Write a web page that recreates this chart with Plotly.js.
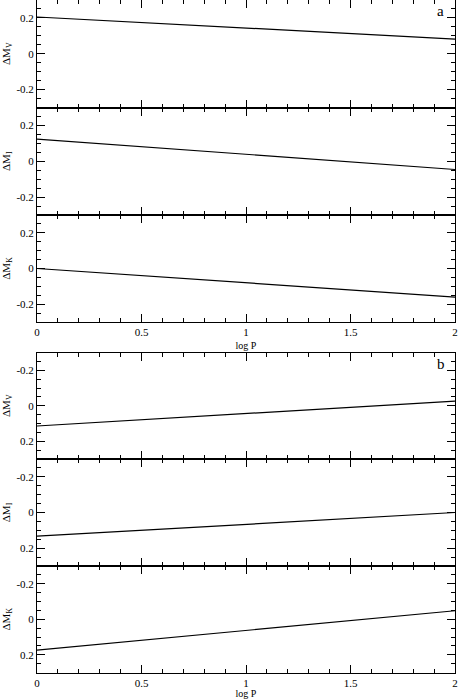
<!DOCTYPE html>
<html>
<head>
<meta charset="utf-8">
<script src="https://cdn.plot.ly/plotly-3.0.1.min.js"></script>
<style>html,body{margin:0;padding:0;background:#fff;}#chart{width:458px;height:699px;}</style>
</head>
<body>
<div id="chart"></div>
<script>
// Data: endpoints of each fitted relation
const logP = [0, 2];
const aV = [0.205, 0.082];
const aI = [0.124, -0.046];
const aK = [0.0, -0.160];
const bV = [0.114, -0.026];
const bI = [0.133, 0.000];
const bK = [0.174, -0.048];

const yTitles = ['ΔM<sub>V</sub>', 'ΔM<sub>I</sub>', 'ΔM<sub>K</sub>', 'ΔM<sub>V</sub>', 'ΔM<sub>I</sub>', 'ΔM<sub>K</sub>'];
const yTickVals = [-0.2, 0, 0.2];
const yTickText = ['-0.2', '0', '0.2'];
const xTickVals = [0, 0.5, 1, 1.5, 2];
const xTickText = ['0', '0.5', '1', '1.5', '2'];
const panelLabels = ['a', 'b'];

const series = [aV, aI, aK, bV, bI, bK];
const H = 699;
// pixel extents (top, bottom) for each panel
const pix = [[0, 107.5], [107.5, 215], [215, 322], [352.5, 459], [459, 566], [566, 672.5]];

const font = {family: "'Liberation Serif', 'Times New Roman', Times, serif", size: 11, color: '#000'};
const traces = [];
const layout = {
  width: 458, height: 699,
  margin: {l: 37, r: 3, t: 0, b: 0},
  paper_bgcolor: '#fff', plot_bgcolor: '#fff',
  showlegend: false,
  font: font,
  annotations: []
};

series.forEach((ys, i) => {
  const n = i + 1;
  const xa = 'x' + (n === 1 ? '' : n);
  const ya = 'y' + (n === 1 ? '' : n);
  traces.push({x: logP, y: ys, xaxis: xa, yaxis: ya, mode: 'lines',
    line: {color: '#000', width: 1.2}, hoverinfo: 'skip'});
  const [t, b] = pix[i];
  const bottomPanel = (i === 2 || i === 5);
  layout['xaxis' + (n === 1 ? '' : n)] = {
    anchor: ya, domain: [0, 1], range: [0, 2],
    showgrid: false, zeroline: false,
    showline: true, linecolor: '#000', linewidth: 1, mirror: 'allticks',
    ticks: 'inside', ticklen: 8, tickwidth: 1, tickcolor: '#000',
    tickvals: xTickVals, ticktext: xTickText,
    showticklabels: bottomPanel,
    tickfont: font,
    minor: {dtick: 0.1, tick0: 0, ticks: 'inside', ticklen: 4, tickwidth: 1, tickcolor: '#000'},
    title: bottomPanel ? {text: 'log P', font: {family: font.family, size: 10, color: '#000'}, standoff: 4} : {text: ''}
  };
  layout['yaxis' + (n === 1 ? '' : n)] = {
    anchor: xa, domain: [1 - b / H, 1 - t / H],
    range: i < 3 ? [-0.3, 0.3] : [0.3, -0.3],
    showgrid: false, zeroline: false,
    showline: true, linecolor: '#000', linewidth: 1, mirror: 'allticks',
    ticks: 'inside', ticklen: 8, tickwidth: 1, tickcolor: '#000',
    tickvals: yTickVals, ticktext: yTickText,
    tickfont: font,
    minor: {dtick: 0.05, tick0: 0, ticks: 'inside', ticklen: 4, tickwidth: 1, tickcolor: '#000'},
    title: {text: yTitles[i], font: font, standoff: 5}
  };
});

panelLabels.forEach((lab, k) => {
  const top = k === 0 ? pix[0][0] : pix[3][0];
  layout.annotations.push({
    text: lab, xref: 'paper', yref: 'paper', x: 0.966, y: 1 - (top + 11) / H,
    xanchor: 'center', yanchor: 'middle', showarrow: false,
    font: {family: font.family, size: 15, color: '#000'}
  });
});

Plotly.newPlot('chart', traces, layout, {staticPlot: true, displayModeBar: false});
</script>
</body>
</html>
